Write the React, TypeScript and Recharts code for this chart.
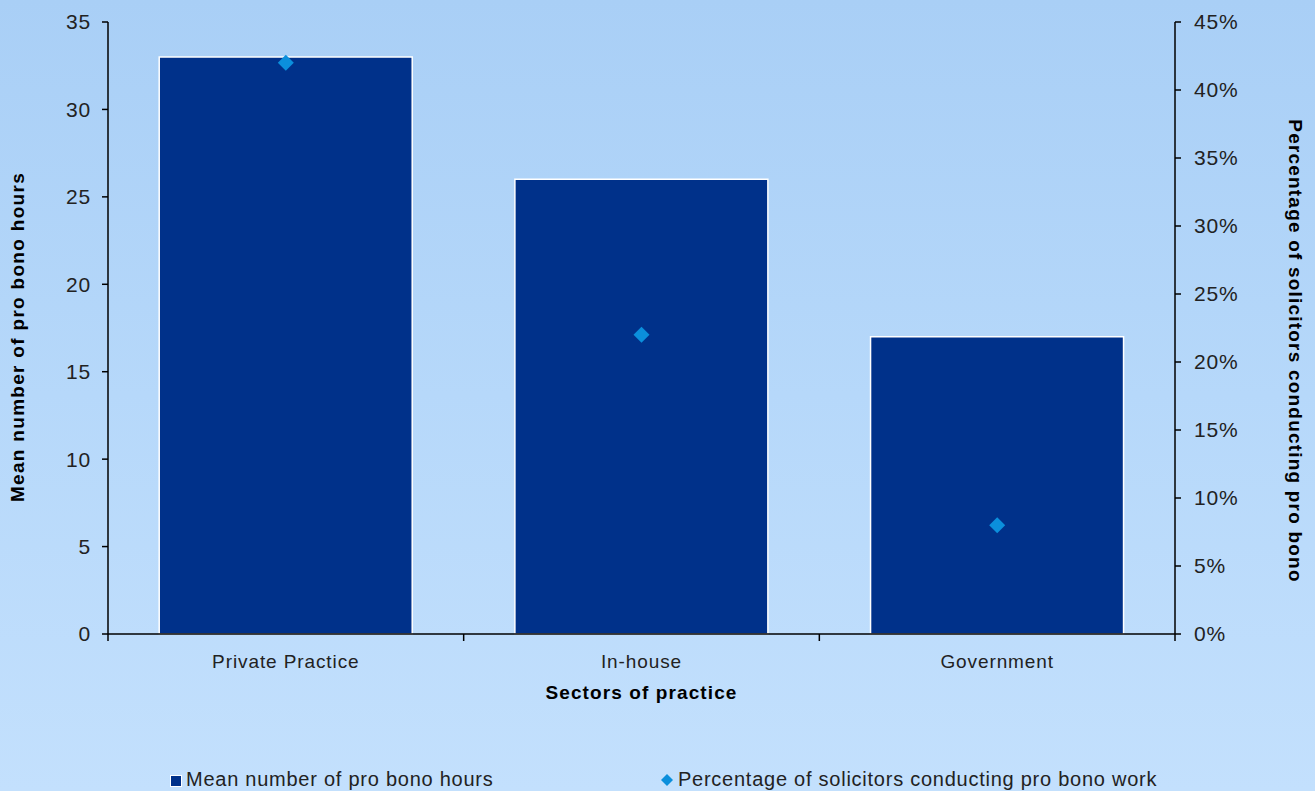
import {
  ComposedChart,
  Bar,
  Line,
  XAxis,
  YAxis,
  Legend,
} from "recharts";

const sectors = ["Private Practice", "In-house", "Government"];
const meanHours = [33, 26, 17];
const pctConducting = [42, 22, 8];
const hourTicks = [0, 5, 10, 15, 20, 25, 30, 35];
const pctTicks = [0, 5, 10, 15, 20, 25, 30, 35, 40, 45];

const data = sectors.map((s, i) => ({
  sector: s,
  hours: meanHours[i],
  pct: pctConducting[i],
}));

const NAVY = "#00318a";
const CYAN = "#0b8fdc";
const FONT = "'Liberation Sans', Arial, sans-serif";

const Diamond = (props: any) => {
  const { cx, cy } = props;
  if (cx == null || cy == null) return null;
  const r = 8;
  return (
    <polygon
      points={`${cx},${cy - r} ${cx + r},${cy} ${cx},${cy + r} ${cx - r},${cy}`}
      fill={CYAN}
    />
  );
};

const SectorTick = (props: any) => {
  const { x, y, payload, index } = props;
  const half = payload.offset || 0;
  const axisY = y - 20;
  return (
    <g>
      <line x1={x - half} y1={axisY} x2={x - half} y2={axisY + 7} stroke="#000" strokeWidth={1.5} />
      {index === sectors.length - 1 && (
        <line x1={x + half} y1={axisY} x2={x + half} y2={axisY + 7} stroke="#000" strokeWidth={1.5} />
      )}
      <text
        x={x}
        y={y + 14}
        textAnchor="middle"
        fill="#222"
        fontSize={19}
        letterSpacing={0.9}
        fontFamily={FONT}
      >
        {payload.value}
      </text>
    </g>
  );
};

const LegendBox = () => (
  <div
    style={{
      position: "relative",
      width: 1315,
      height: 30,
      fontFamily: FONT,
      fontSize: 20,
      letterSpacing: 0.75,
      color: "#222",
    }}
  >
    <div style={{ position: "absolute", left: 170, top: 14, width: 10, height: 10, background: NAVY, border: "1px solid #fff" }} />
    <div style={{ position: "absolute", left: 186, top: 7, whiteSpace: "nowrap" }}>Mean number of pro bono hours</div>
    <svg style={{ position: "absolute", left: 660, top: 13 }} width={14} height={14}>
      <polygon points="7,0 13,6 7,12 1,6" fill={CYAN} />
    </svg>
    <div style={{ position: "absolute", left: 678, top: 7, whiteSpace: "nowrap" }}>
      Percentage of solicitors conducting pro bono work
    </div>
  </div>
);

const App = () => {
  return (
    <div
      style={{
        position: "fixed",
        left: 0,
        top: 0,
        width: 1315,
        height: 791,
        overflow: "hidden",
        background: "linear-gradient(to bottom, #a9cff6 0%, #b6d8fa 50%, #c3e0fd 100%)",
      }}
    >
      <ComposedChart
        width={1315}
        height={791}
        data={data}
        margin={{ top: 22, right: 0, bottom: 0, left: 0 }}
        barCategoryGap="14.4%"
      >
        <XAxis
          dataKey="sector"
          height={127}
          tickLine={false}
          tickSize={6}
          tickMargin={14}
          axisLine={{ stroke: "#000", strokeWidth: 1.5 }}
          tick={<SectorTick />}
          label={{
            content: (p: any) => {
              const vb = p.viewBox;
              return (
                <text
                  x={vb.x + vb.width / 2}
                  y={vb.y + 65}
                  textAnchor="middle"
                  fontWeight="bold"
                  fontSize={19}
                  letterSpacing={1.1}
                  fontFamily={FONT}
                  fill="#000"
                >
                  Sectors of practice
                </text>
              );
            },
          }}
        />
        <YAxis
          yAxisId="hours"
          width={108}
          domain={[0, 35]}
          ticks={hourTicks}
          interval={0}
          tickSize={6}
          tickMargin={11}
          axisLine={{ stroke: "#000", strokeWidth: 1.5 }}
          tickLine={{ stroke: "#000", strokeWidth: 1.5 }}
          tick={{ fill: "#222", fontSize: 21, letterSpacing: 0.8, fontFamily: FONT }}
          label={{
            content: (p: any) => {
              const vb = p.viewBox;
              const cx = 24;
              const cy = vb.y + vb.height / 2 + 9;
              return (
                <text
                  x={cx}
                  y={cy}
                  transform={`rotate(-90, ${cx}, ${cy})`}
                  textAnchor="middle"
                  fontWeight="bold"
                  fontSize={19}
                  letterSpacing={1.3}
                  fontFamily={FONT}
                  fill="#000"
                >
                  Mean number of pro bono hours
                </text>
              );
            },
          }}
        />
        <YAxis
          yAxisId="pct"
          orientation="right"
          width={140}
          domain={[0, 45]}
          ticks={pctTicks}
          interval={0}
          tickSize={6}
          tickMargin={13}
          tickFormatter={(v: number) => `${v}%`}
          axisLine={{ stroke: "#000", strokeWidth: 1.5 }}
          tickLine={{ stroke: "#000", strokeWidth: 1.5 }}
          tick={{ fill: "#222", fontSize: 21, letterSpacing: 0.8, fontFamily: FONT }}
          label={{
            content: (p: any) => {
              const vb = p.viewBox;
              const cx = 1289;
              const cy = vb.y + vb.height / 2 + 23;
              return (
                <text
                  x={cx}
                  y={cy}
                  transform={`rotate(90, ${cx}, ${cy})`}
                  textAnchor="middle"
                  fontWeight="bold"
                  fontSize={19}
                  letterSpacing={1.2}
                  fontFamily={FONT}
                  fill="#000"
                >
                  Percentage of solicitors conducting pro bono
                </text>
              );
            },
          }}
        />
        <Legend verticalAlign="bottom" height={30} content={<LegendBox />} wrapperStyle={{ left: 0, width: 1315 }} />
        <Bar
          yAxisId="hours"
          dataKey="hours"
          name="Mean number of pro bono hours"
          fill={NAVY}
          stroke="#fff"
          strokeWidth={1.5}
          isAnimationActive={false}
        />
        <Line
          yAxisId="pct"
          dataKey="pct"
          name="Percentage of solicitors conducting pro bono work"
          stroke="none"
          dot={<Diamond />}
          activeDot={false}
          isAnimationActive={false}
        />
      </ComposedChart>
    </div>
  );
};

export default App;
